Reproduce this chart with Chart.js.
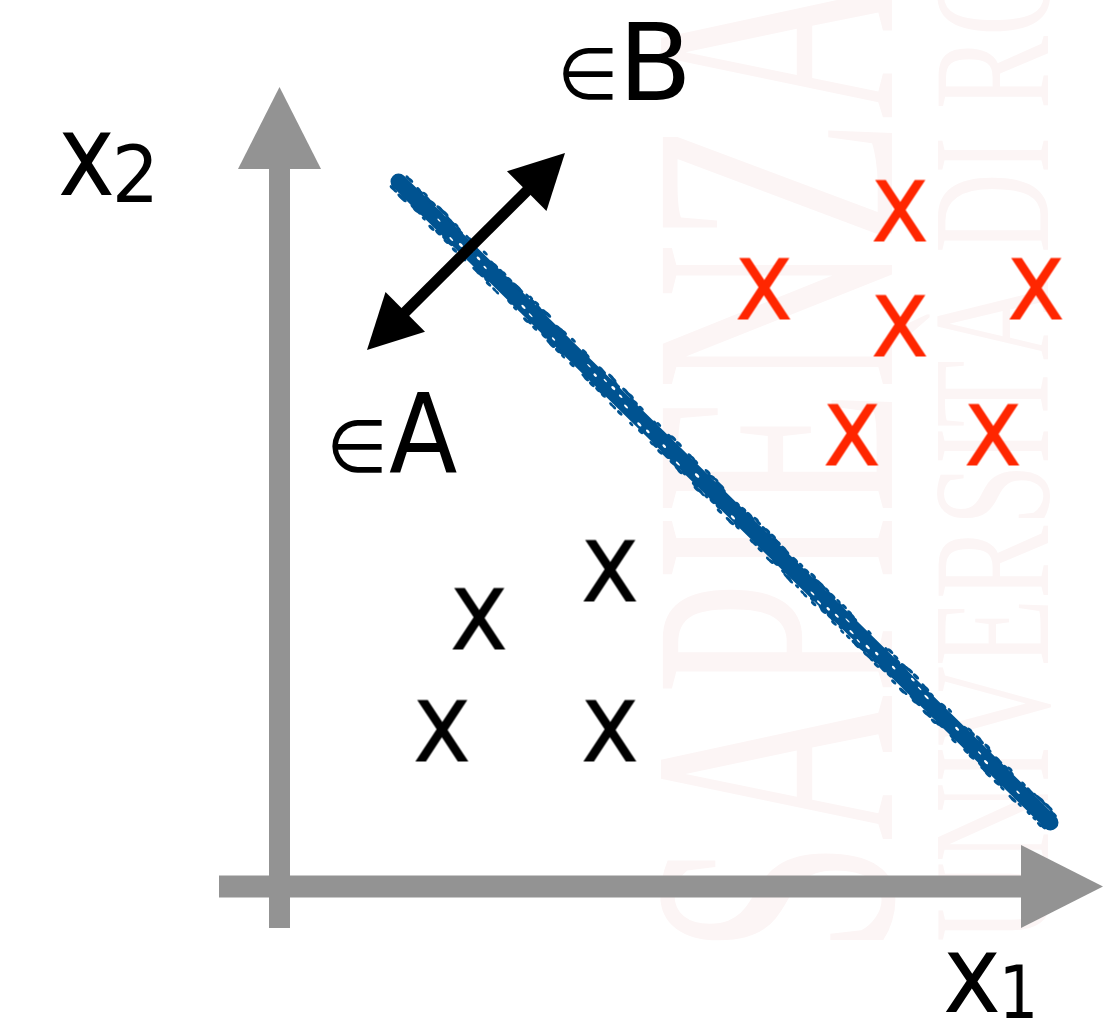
<!DOCTYPE html>
<html>
<head>
<meta charset="utf-8">
<script src="https://cdn.jsdelivr.net/npm/chart.js@4.4.1/dist/chart.umd.min.js"></script>
<style>
  html, body { margin: 0; padding: 0; background: #fff; }
  #wrap { width: 1114px; height: 1023px; }
</style>
</head>
<body>
<div id="wrap"><canvas id="plane" width="1114" height="1023"></canvas></div>
<script>
// samples of class A (black) and class B (red)
const classAX = [3.3, 1.99, 1.62, 3.3];
const classAY = [3.16, 2.68, 1.56, 1.56];
const classBX = [6.2, 4.84, 6.2, 7.56, 5.72, 7.13];
const classBY = [6.76, 5.98, 5.61, 5.98, 4.52, 4.52];

// separating line
const boundaryX = [1.19, 7.71];
const boundaryY = [7.05, 0.64];

// normal arrow pointing across the boundary
const normalX = [0.875, 2.855];
const normalY = [5.365, 7.335];

// axis extents (tail, tip)
const axisX = [-0.605, 8.235];
const axisY = [-0.415, 7.995];

// text labels: [text, left, right, top, bottom] in plane units (ink box)
const labels = [
  ['\u2208', 0.525, 1.025, 4.665, 4.135],
  ['A', 1.095, 1.775, 4.945, 4.135],
  ['\u2208', 2.835, 3.335, 8.385, 7.865],
  ['B', 3.485, 4.055, 8.645, 7.865],
  ['x', -2.195, -1.675, 7.545, 6.915],
  ['2', -1.625, -1.275, 7.435, 6.845],
  ['x', 6.655, 7.185, -0.655, -1.255],
  ['1', 7.255, 7.535, -0.785, -1.315]
];

const FONT = '"DejaVu Sans", Verdana, sans-serif';
const GREY = '#939393';
const BLUE = '#005391';

function toPoints(xs, ys) { return xs.map((x, i) => ({ x: x, y: ys[i] })); }

// draw text so that its ink fills the box (l, t, w, h)
function fillInk(ctx, text, l, t, w, h) {
  ctx.save();
  ctx.font = '100px ' + FONT;
  ctx.textAlign = 'left';
  ctx.textBaseline = 'alphabetic';
  const m = ctx.measureText(text);
  const iw = m.actualBoundingBoxLeft + m.actualBoundingBoxRight;
  const ih = m.actualBoundingBoxAscent + m.actualBoundingBoxDescent;
  ctx.translate(l, t);
  ctx.scale(w / iw, h / ih);
  ctx.fillText(text, m.actualBoundingBoxLeft, m.actualBoundingBoxAscent);
  ctx.restore();
}

// "x" glyph used as marker
function glyph(color) {
  const c = document.createElement('canvas');
  c.width = 64; c.height = 70;
  const g = c.getContext('2d');
  g.fillStyle = color;
  fillInk(g, 'x', 5, 4, 54, 62);
  return c;
}

function hash(i) { const s = Math.sin(i * 12.9898 + 78.233) * 43758.5453; return s - Math.floor(s); }

const diagram = {
  id: 'diagram',
  beforeDraw(chart) {
    // faint university watermark
    const ctx = chart.ctx;
    ctx.save();
    ctx.fillStyle = '#fcf5f5';
    ctx.font = '350px "Liberation Serif", serif';
    ctx.translate(892, 0);
    ctx.rotate(-Math.PI / 2);
    ctx.scale(0.58, 1);
    const sw = ctx.measureText('S').width;
    ctx.fillText('SAPIENZA', (-841 - sw * 0.58) / 0.58, 0);
    ctx.restore();
    ctx.save();
    ctx.fillStyle = '#fcf5f5';
    ctx.font = '167px "Liberation Serif", serif';
    ctx.translate(1048, 0);
    ctx.rotate(-Math.PI / 2);
    ctx.scale(0.66, 1);
    const uw = ctx.measureText('UNIVERSIT\u00C0 ').width;
    ctx.fillText('UNIVERSIT\u00C0 DI ROMA', (-253 - uw * 0.66) / 0.66, 0);
    ctx.restore();
  },
  beforeDatasetsDraw(chart) {
    const ctx = chart.ctx;
    const sx = chart.scales.x, sy = chart.scales.y;
    const ox = sx.getPixelForValue(0), oy = sy.getPixelForValue(0);
    const head = 82, half = 41.5;
    ctx.save();
    ctx.fillStyle = GREY;
    // x1 axis
    const xTail = sx.getPixelForValue(axisX[0]);
    const xTip = sx.getPixelForValue(axisX[1]);
    ctx.fillRect(xTail, oy - 11, xTip - head - xTail + 1, 22);
    ctx.beginPath();
    ctx.moveTo(xTip, oy);
    ctx.lineTo(xTip - head, oy - half);
    ctx.lineTo(xTip - head, oy + half);
    ctx.closePath();
    ctx.fill();
    // x2 axis
    const yTail = sy.getPixelForValue(axisY[0]);
    const yTip = sy.getPixelForValue(axisY[1]);
    ctx.fillRect(ox - 10.5, yTip + head - 1, 21, yTail - yTip - head + 1);
    ctx.beginPath();
    ctx.moveTo(ox, yTip);
    ctx.lineTo(ox - half, yTip + head);
    ctx.lineTo(ox + half, yTip + head);
    ctx.closePath();
    ctx.fill();
    ctx.restore();
  },
  afterDatasetsDraw(chart) {
    const ctx = chart.ctx;
    const sx = chart.scales.x, sy = chart.scales.y;

    // brush texture on the boundary stroke: frayed edges, a few white flecks
    const pts = chart.getDatasetMeta(0).data;
    const x0 = pts[0].x, y0 = pts[0].y, x1 = pts[1].x, y1 = pts[1].y;
    const len = Math.hypot(x1 - x0, y1 - y0);
    const ux = (x1 - x0) / len, uy = (y1 - y0) / len;
    const nx = -uy, ny = ux;
    const ang = Math.atan2(uy, ux);
    ctx.save();
    ctx.fillStyle = BLUE;
    for (let i = 0; i < len; i += 4) {
      for (const side of [-1, 1]) {
        const r = hash(i * 3 + side);
        if (r < 0.4) continue;
        const off = side * (7.5 + hash(i + side * 7) * 2.5);
        ctx.beginPath();
        ctx.ellipse(x0 + ux * i + nx * off, y0 + uy * i + ny * off, 1.5 + r * 2.5, 1 + r * 0.8, ang, 0, Math.PI * 2);
        ctx.fill();
      }
    }
    ctx.fillStyle = '#ffffff';
    for (let i = 12; i < len - 8; i += 11) {
      const r = hash(i * 1.7);
      if (r < 0.55) continue;
      const off = (hash(i * 5.3) - 0.5) * 11;
      ctx.beginPath();
      ctx.ellipse(x0 + ux * i + nx * off, y0 + uy * i + ny * off, 1 + r * 2, 0.6 + hash(i * 9.1) * 0.8, ang, 0, Math.PI * 2);
      ctx.fill();
    }
    ctx.restore();

    // double-headed normal arrow
    const ax = sx.getPixelForValue(normalX[0]), ay = sy.getPixelForValue(normalY[0]);
    const bx = sx.getPixelForValue(normalX[1]), by = sy.getPixelForValue(normalY[1]);
    const al = Math.hypot(bx - ax, by - ay);
    const dx = (bx - ax) / al, dy = (by - ay) / al;
    const hl = 54, hw = 28;
    ctx.save();
    ctx.strokeStyle = '#000';
    ctx.fillStyle = '#000';
    ctx.lineWidth = 11;
    ctx.beginPath();
    ctx.moveTo(ax + dx * (hl - 2), ay + dy * (hl - 2));
    ctx.lineTo(bx - dx * (hl - 2), by - dy * (hl - 2));
    ctx.stroke();
    for (const [tx, ty, s] of [[ax, ay, 1], [bx, by, -1]]) {
      const bxp = tx + s * dx * hl, byp = ty + s * dy * hl;
      ctx.beginPath();
      ctx.moveTo(tx, ty);
      ctx.lineTo(bxp - dy * hw, byp + dx * hw);
      ctx.lineTo(bxp + dy * hw, byp - dx * hw);
      ctx.closePath();
      ctx.fill();
    }
    ctx.restore();

    // labels
    ctx.save();
    ctx.fillStyle = '#000';
    for (const [t, l, r, top, bot] of labels) {
      const pl = sx.getPixelForValue(l), pr = sx.getPixelForValue(r);
      const pt = sy.getPixelForValue(top), pb = sy.getPixelForValue(bot);
      fillInk(ctx, t, pl, pt, pr - pl, pb - pt);
    }
    ctx.restore();
  }
};

new Chart(document.getElementById('plane'), {
  type: 'scatter',
  data: {
    datasets: [
      {
        type: 'line',
        data: toPoints(boundaryX, boundaryY),
        borderColor: BLUE,
        borderWidth: 16,
        borderCapStyle: 'round',
        pointRadius: 0,
        fill: false
      },
      {
        data: toPoints(classAX, classAY),
        pointStyle: glyph('#000000'),
        pointRadius: 30
      },
      {
        data: toPoints(classBX, classBY),
        pointStyle: glyph('#ff2600'),
        pointRadius: 30
      }
    ]
  },
  options: {
    responsive: false,
    animation: false,
    devicePixelRatio: 1,
    layout: { padding: 0, autoPadding: false },
    plugins: { legend: { display: false }, tooltip: { enabled: false } },
    scales: {
      x: { type: 'linear', min: -2.795, max: 8.345, display: false },
      y: { type: 'linear', min: -1.365, max: 8.865, display: false }
    }
  },
  plugins: [diagram]
});
</script>
</body>
</html>
